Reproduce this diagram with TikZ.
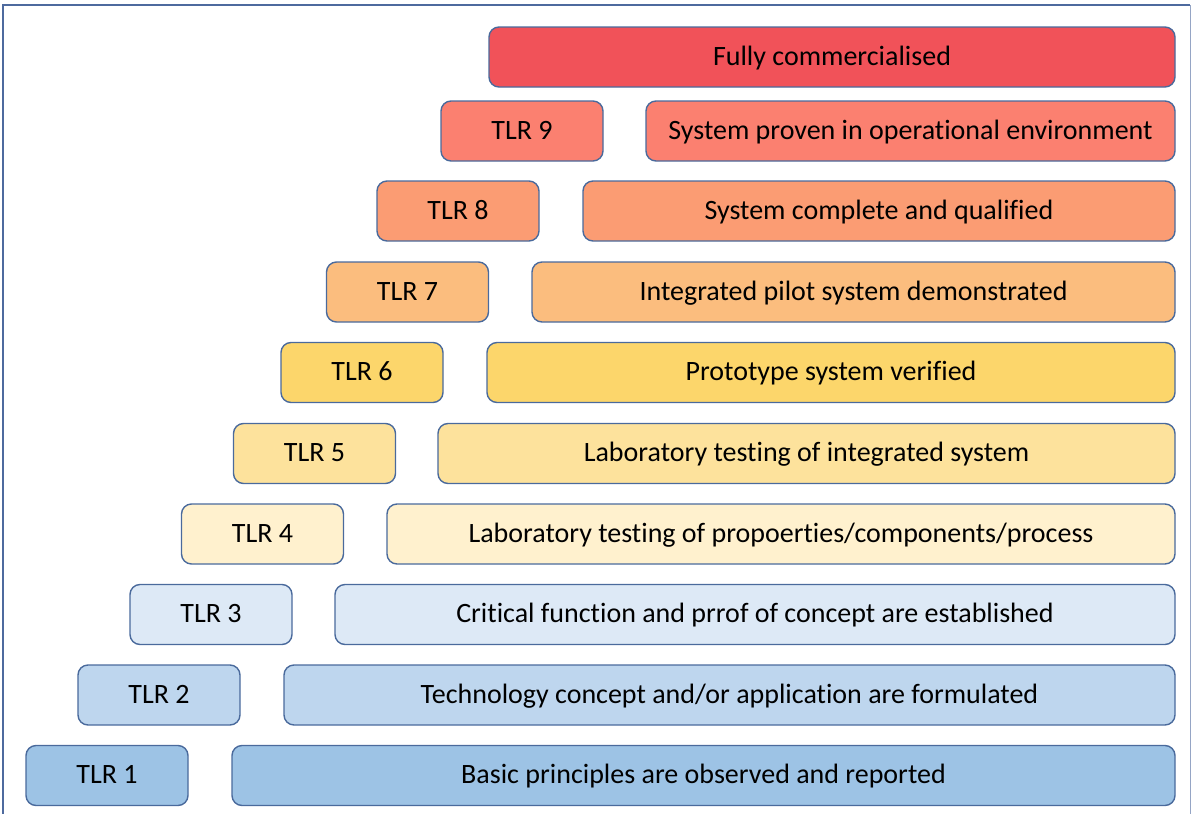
\documentclass[tikz,border=0pt]{standalone}
\usepackage{fontspec}
\setmainfont[Ligatures={NoCommon}]{Carlito}
\definecolor{edgeblue}{HTML}{4A6A9C}
\definecolor{framecol}{HTML}{4E6A9E}
\definecolor{cFull}{HTML}{F15259}
\definecolor{cNine}{HTML}{FB8070}
\definecolor{cEight}{HTML}{FB9C73}
\definecolor{cSeven}{HTML}{FBBD7E}
\definecolor{cSix}{HTML}{FCD66B}
\definecolor{cFive}{HTML}{FDE29C}
\definecolor{cFour}{HTML}{FFF1CE}
\definecolor{cThree}{HTML}{DDE9F6}
\definecolor{cTwo}{HTML}{BED6EE}
\definecolor{cOne}{HTML}{9DC3E5}
\begin{document}
\begin{tikzpicture}[x=1pt,y=-1pt,
  tlrbox/.style={draw=edgeblue,line width=1.4pt,rounded corners=10pt,
    minimum height=60pt,inner sep=0pt,text height=20pt,text depth=4pt,
    font=\fontsize{28}{32}\selectfont,text=black},
  lvl/.style={tlrbox,minimum width=162pt},
]
\useasboundingbox (0,0) rectangle (1192,814);
% page frame
\draw[framecol,line width=2.6pt] (3,814) -- (3,5) -- (1190,5);
\draw[framecol!60,line width=1pt] (1190,5) -- (1190,814);

% levels: label box and description box per row
\node[tlrbox,fill=cFull,minimum width=686pt] (full) at (832,57) {Fully commercialised};

\node[lvl,fill=cNine] (l9) at (522,131) {TLR 9};
\node[tlrbox,fill=cNine,minimum width=529pt] (d9) at (910.5,131) {System proven in operational environment};

\node[lvl,fill=cEight] (l8) at (458,211) {TLR 8};
\node[tlrbox,fill=cEight,minimum width=592pt] (d8) at (879,211) {System complete and qualified};

\node[lvl,fill=cSeven] (l7) at (407.5,292) {TLR 7};
\node[tlrbox,fill=cSeven,minimum width=643pt] (d7) at (853.5,292) {Integrated pilot system demonstrated};

\node[lvl,fill=cSix] (l6) at (362,372.5) {TLR 6};
\node[tlrbox,fill=cSix,minimum width=688pt] (d6) at (831,372.5) {Prototype system verified};

\node[lvl,fill=cFive] (l5) at (314.5,453.5) {TLR 5};
\node[tlrbox,fill=cFive,minimum width=737pt] (d5) at (806.5,453.5) {Laboratory testing of integrated system};

\node[lvl,fill=cFour] (l4) at (262.5,534) {TLR 4};
\node[tlrbox,fill=cFour,minimum width=788pt] (d4) at (781,534) {Laboratory testing of propoerties/components/process};

\node[lvl,fill=cThree] (l3) at (211,614.5) {TLR 3};
\node[tlrbox,fill=cThree,minimum width=840pt] (d3) at (755,614.5) {Critical function and prrof of concept are established};

\node[lvl,fill=cTwo] (l2) at (159,695) {TLR 2};
\node[tlrbox,fill=cTwo,minimum width=891pt] (d2) at (729.5,695) {Technology concept and/or application are formulated};

\node[lvl,fill=cOne] (l1) at (107,775.5) {TLR 1};
\node[tlrbox,fill=cOne,minimum width=943pt] (d1) at (703.5,775.5) {Basic principles are observed and reported};
\end{tikzpicture}
\end{document}
